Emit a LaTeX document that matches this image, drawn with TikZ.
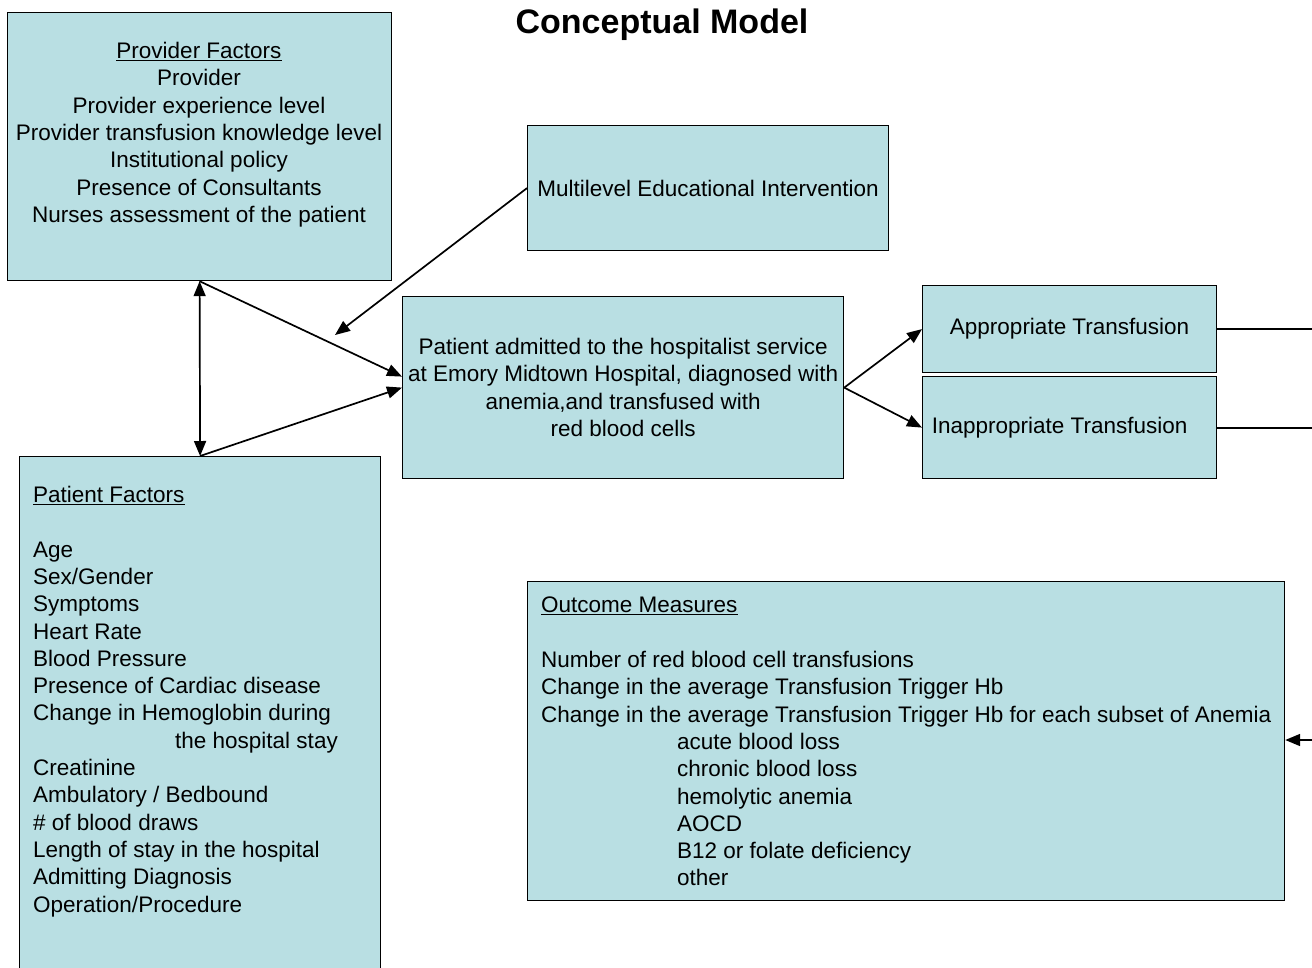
\documentclass[tikz,border=0pt]{standalone}
\usepackage{fontspec}
\setmainfont{Liberation Sans}
\usetikzlibrary{arrows.meta,positioning}
\definecolor{modelTeal}{RGB}{185,223,227}

\begin{document}
\begin{tikzpicture}[x=1pt,y=-1pt,
  box/.style={draw=black, line width=1.2pt, fill=modelTeal, inner sep=0pt,
    font=\fontsize{22.5}{27.3}\selectfont},
  txt/.style={inner sep=0pt, font=\fontsize{22.5}{27.3}\selectfont},
  tip/.tip={Triangle[length=15pt,width=12pt]},
  link/.style={line width=1.7pt, -tip},
  plain/.style={line width=1.7pt}]
\useasboundingbox (0,0) rectangle (1312,967);

\node[font=\bfseries\fontsize{34}{40}\selectfont] (title) at (662,25) {Conceptual Model};

% boxes
\node[box, anchor=north west, minimum width=384, minimum height=268] (prov) at (7,12) {};
\node[box, anchor=north west, minimum width=361, minimum height=125] (multi) at (527,125)
  {Multilevel Educational Intervention};
\node[box, anchor=north west, minimum width=441, minimum height=182, align=center] (adm) at (402,296)
  {Patient admitted to the hospitalist service\\at Emory Midtown Hospital, diagnosed with\\anemia,and transfused with\\red blood cells};
\node[box, anchor=north west, minimum width=294, minimum height=87] (appr) at (922,285)
  {Appropriate Transfusion};
\node[box, anchor=north west, minimum width=294, minimum height=102] (inap) at (922,376)
  {Inappropriate Transfusion\hspace*{20pt}};
\node[box, anchor=north west, minimum width=361, minimum height=530] (pat) at (19,456) {};
\node[box, anchor=north west, minimum width=757, minimum height=319] (outc) at (527,581) {};

% box texts
\node[txt, anchor=north, align=center] (provtxt) at (199,42)
  {\underline{Provider Factors}\\Provider\\Provider experience level\\
   Provider transfusion knowledge level\\Institutional policy\\
   Presence of Consultants\\Nurses assessment of the patient};
\node[txt, anchor=north west, align=left] (pattxt) at (33,486)
  {\underline{Patient Factors}\\[27.3pt]Age\\Sex/Gender\\Symptoms\\Heart Rate\\Blood Pressure\\
   Presence of Cardiac disease\\Change in Hemoglobin during\\
   \hspace*{142pt}the hospital stay\\Creatinine\\Ambulatory / Bedbound\\\# of blood draws\\
   Length of stay in the hospital\\Admitting Diagnosis\\Operation/Procedure};
\node[txt, anchor=north west, align=left] (outtxt) at (541,597)
  {\underline{Outcome Measures}\\[27.3pt]Number of red blood cell transfusions\\
   Change in the average Transfusion Trigger Hb\\
   Change in the average Transfusion Trigger Hb for each subset of Anemia\\
   \hspace*{136pt}acute blood loss\\\hspace*{136pt}chronic blood loss\\
   \hspace*{136pt}hemolytic anemia\\\hspace*{136pt}AOCD\\
   \hspace*{136pt}B12 or folate deficiency\\\hspace*{136pt}other};

% connectors
\coordinate (mfree) at (335,335);
\coordinate (edge) at (1312,0);
\coordinate (outin) at (1312,740);
\draw[plain, tip-tip] (prov.south) -- (pat.north);
\draw[link] (prov.south) -- ([yshift=11pt]adm.west);
\draw[link] (pat.north) -- (adm.west);
\draw[link] (multi.west) -- (mfree);
\draw[link] (adm.east) -- (appr.west);
\draw[link] (adm.east) -- (inap.west);
\draw[plain] (appr.east) -- (appr.east -| edge);
\draw[plain] ([yshift=-0.5pt]inap.east) -- ([yshift=-0.5pt]inap.east -| edge);
\draw[link] (outin) -- (outin -| outc.east);
\end{tikzpicture}
\end{document}
